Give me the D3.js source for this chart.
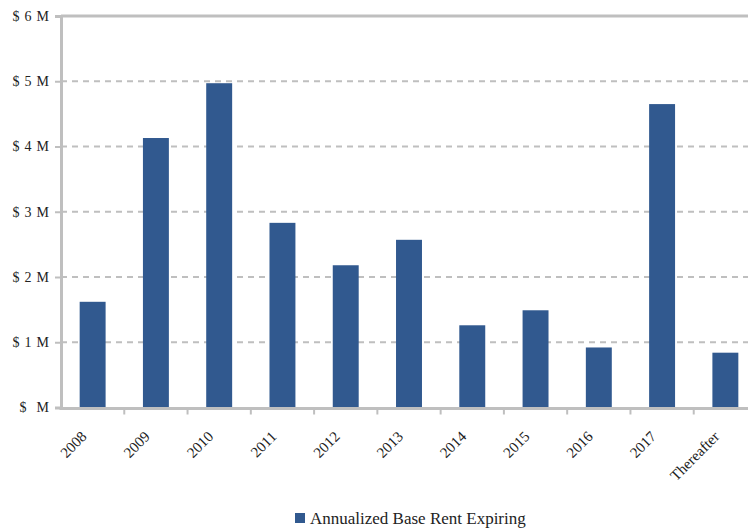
<!DOCTYPE html>
<html>
<head>
<meta charset="utf-8">
<script src="https://cdn.jsdelivr.net/npm/d3@7"></script>
<style>
  html, body { margin: 0; padding: 0; background: #fff; }
  svg { display: block; }
  text { font-family: "Liberation Serif", "DejaVu Serif", serif; fill: #222; }
</style>
</head>
<body>
<svg id="chart" width="748" height="529"></svg>
<script>
// Lease expiration schedule (annualized base rent, $ millions)
const categories = ["2008", "2009", "2010", "2011", "2012", "2013", "2014", "2015", "2016", "2017", "Thereafter"];
const rentExpiring = [1.62, 4.13, 4.97, 2.83, 2.18, 2.57, 1.26, 1.49, 0.92, 4.65, 0.84];
const yTicks = [0, 1, 2, 3, 4, 5, 6];
const yTickLabels = ["$  M", "$ 1 M", "$ 2 M", "$ 3 M", "$ 4 M", "$ 5 M", "$ 6 M"];
const seriesName = "Annualized Base Rent Expiring";

const svg = d3.select("#chart");
const plotLeft = 61, plotRight = 757, plotTop = 16, plotBottom = 407.5;
const barColor = "#31598f";
const axisGray = "#bfbfbf";

const x = d3.scaleBand().domain(categories).range([plotLeft, plotRight]).paddingInner(0.59).paddingOuter(0.295);
const y = d3.scaleLinear().domain([0, 6]).range([plotBottom, plotTop]);

// dashed gridlines (top one solid)
svg.append("g").selectAll("line")
  .data(yTicks.filter(v => v > 0))
  .join("line")
  .attr("x1", plotLeft).attr("x2", 748)
  .attr("y1", d => y(d)).attr("y2", d => y(d))
  .attr("stroke", axisGray)
  .attr("stroke-width", d => d === 6 ? 3 : 2)
  .attr("stroke-dasharray", d => d === 6 ? null : "6,5");

// bars
svg.append("g").selectAll("rect")
  .data(categories.map((c, i) => ({ c, v: rentExpiring[i] })))
  .join("rect")
  .attr("x", d => x(d.c))
  .attr("width", x.bandwidth())
  .attr("y", d => y(d.v))
  .attr("height", d => y(0) - y(d.v))
  .attr("fill", barColor);

// y axis
const yAxis = d3.axisLeft(y).tickValues(yTicks).tickSize(6).tickPadding(6)
  .tickFormat((d, i) => yTickLabels[i]);
const gy = svg.append("g").attr("transform", `translate(${plotLeft},0)`).call(yAxis);
gy.select(".domain").attr("stroke", axisGray).attr("stroke-width", 3);
gy.selectAll(".tick line").attr("stroke", axisGray).attr("stroke-width", 2);
gy.selectAll(".tick text").attr("font-size", 14).attr("fill", "#222")
  .attr("font-family", "Liberation Serif, serif").style("white-space", "pre")
  .style("word-spacing", "1.5px");

// x axis baseline with ticks between categories
svg.append("line")
  .attr("x1", plotLeft - 1.5).attr("x2", 748)
  .attr("y1", plotBottom + 1).attr("y2", plotBottom + 1)
  .attr("stroke", axisGray).attr("stroke-width", 3);
const step = x.step();
svg.append("g").selectAll("line")
  .data(categories.slice(0, -1))
  .join("line")
  .attr("x1", d => x(d) - x.paddingOuter() * step + step)
  .attr("x2", d => x(d) - x.paddingOuter() * step + step)
  .attr("y1", plotBottom + 2).attr("y2", plotBottom + 7)
  .attr("stroke", axisGray).attr("stroke-width", 2);

// rotated category labels
svg.append("g").selectAll("text")
  .data(categories)
  .join("text")
  .attr("transform", d => `translate(${x(d) + x.bandwidth() / 2 - 5},${plotBottom + 30}) rotate(-45)`)
  .attr("text-anchor", "end")
  .attr("font-size", 15)
  .text(d => d);

// legend
const lg = svg.append("g").attr("transform", "translate(295,513)");
lg.append("rect").attr("width", 10).attr("height", 10).attr("fill", barColor);
lg.append("text").attr("x", 15).attr("y", 11).attr("font-size", 17).text(seriesName);
</script>
</body>
</html>
